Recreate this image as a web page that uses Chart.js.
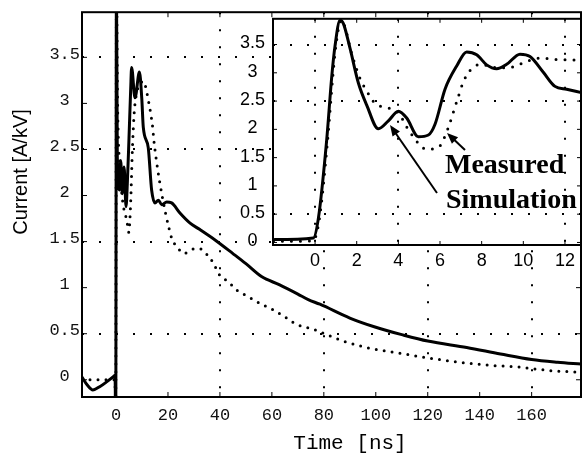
<!DOCTYPE html>
<html>
<head>
<meta charset="utf-8">
<script src="https://cdn.jsdelivr.net/npm/chart.js"></script>
<style>
  body { margin: 0; background: #fff; }
  #wrap { position: relative; width: 583px; height: 458px; }
  #main { position: absolute; left: 0; top: 0; }
  #inset { position: absolute; left: 220px; top: 0; }
</style>
</head>
<body>
<div id="wrap">
  <canvas id="main" width="583" height="458"></canvas>
  <canvas id="inset" width="363" height="280"></canvas>
</div>
<script>
// main plot: time [ns] vs current [A/kV]
const simT = [-13.1, -11, -8.9, -6, -3.5, -0.8, -0.4, -0.1, 0.15, 0.5, 1.3, 1.8, 2.4, 3.1, 3.85, 4.35, 5.0, 5.65, 6.0, 7.3, 9.0, 9.9, 10.5, 12.4, 13.7, 15, 16.3, 17.6, 19.5, 21.4, 24.6, 28.5, 32.3, 38.5, 45, 50, 56, 63, 70, 74, 78.5, 90, 100, 110, 120, 135, 148, 160, 170, 179]
const simI = [0.03, -0.06, -0.11, -0.07, -0.02, 0.04, 0.05, -0.4, 4.4, 2.41, 2.06, 2.38, 2.02, 2.31, 1.88, 2.13, 2.63, 3.16, 3.39, 3.06, 3.34, 3.06, 2.74, 2.52, 2.06, 1.92, 1.95, 1.90, 1.93, 1.92, 1.81, 1.70, 1.63, 1.51, 1.37, 1.26, 1.12, 1.03, 0.93, 0.87, 0.82, 0.67, 0.57, 0.49, 0.42, 0.35, 0.28, 0.22, 0.19, 0.17]

const measT = [-13.1, -6, -0.5, -0.1, 0.15, 0.6, 1.5, 2.5, 4.2, 4.9, 5.6, 6.3, 7, 8, 9.5, 10.5, 11.2, 12.4, 13.3, 14.1, 14.6, 15.3, 16.0, 16.9, 18.9, 20.1, 21.4, 24.1, 26.1, 28, 30, 32.4, 35, 37.6, 39.5, 43.4, 46.6, 49.8, 55.4, 60.5, 65.7, 69.6, 75.9, 81.1, 87.5, 96.5, 106.7, 119.6, 132.4, 145.2, 155.5, 167, 178.6]
const measI = [0.0, 0.0, 0.0, -0.3, 4.4, 3.0, 2.3, 1.95, 1.72, 1.6, 1.9, 2.5, 2.9, 3.12, 3.22, 3.24, 3.20, 3.04, 2.90, 2.74, 2.59, 2.43, 2.29, 2.13, 1.83, 1.68, 1.54, 1.42, 1.37, 1.39, 1.42, 1.42, 1.36, 1.26, 1.15, 1.06, 0.97, 0.92, 0.83, 0.76, 0.67, 0.60, 0.55, 0.49, 0.42, 0.35, 0.30, 0.24, 0.19, 0.155, 0.137, 0.10, 0.083]

const xTicks = [0, 20, 40, 60, 80, 100, 120, 140, 160]
const yTicks = [0, 0.5, 1, 1.5, 2, 2.5, 3, 3.5]
const xGrid = [40, 80, 120, 160]
const yGrid = [0.5, 1.5, 2.5, 3.5]

// inset: zoom on the first 13 ns
const inSimT = [-2, -0.08, 0.16, 0.56, 0.8, 0.96, 1.2, 1.36, 1.68, 2.08, 2.48, 3.04, 3.52, 4.0, 4.4, 4.96, 5.44, 5.76, 6.24, 6.8, 7.28, 7.76, 8.24, 8.72, 9.2, 9.84, 10.32, 10.96, 11.52, 12.08, 12.8]
const inSimI = [0.05, 0.08, 0.43, 1.82, 2.93, 3.48, 3.93, 3.87, 3.43, 2.82, 2.43, 2.01, 2.15, 2.32, 2.2, 1.87, 1.9, 2.09, 2.71, 3.12, 3.37, 3.32, 3.14, 3.07, 3.15, 3.33, 3.29, 3.01, 2.76, 2.71, 2.65]

const inMeasT = [-2, -0.1, 0.2, 0.6, 0.85, 1.0, 1.25, 1.4, 1.75, 2.16, 2.48, 2.88, 3.52, 4.0, 4.56, 5.36, 5.92, 6.24, 6.48, 6.88, 7.12, 7.44, 7.92, 8.72, 9.44, 10.16, 10.8, 11.44, 12.15, 12.8]
const inMeasI = [0.02, 0.03, 0.4, 1.8, 2.93, 3.48, 3.93, 3.85, 3.35, 2.9, 2.68, 2.46, 2.38, 2.29, 1.95, 1.65, 1.68, 1.88, 2.12, 2.58, 2.84, 3.04, 3.15, 3.09, 3.10, 3.20, 3.26, 3.24, 3.23, 3.22]

const inXTicks = [0, 2, 4, 6, 8, 10, 12]
const inYTicks = [0, 0.5, 1, 1.5, 2, 2.5, 3, 3.5]
const inXGrid = [0, 4, 12]
const inYGrid = [0.5, 2.5, 3.5]

const pts = (xs, ys) => xs.map((x, i) => ({x: x, y: ys[i]}))

// box round the plot area + small inward ticks
const frame = {
  id: 'frame',
  afterDraw(chart, args, opts) {
    const {ctx, chartArea: a, scales: {x, y}} = chart
    ctx.save()
    ctx.strokeStyle = '#000'
    ctx.lineWidth = 1
    ctx.beginPath()
    x.ticks.forEach(t => {
      const px = x.getPixelForValue(t.value)
      ctx.moveTo(px, a.bottom); ctx.lineTo(px, a.bottom - opts.len)
      ctx.moveTo(px, a.top); ctx.lineTo(px, a.top + opts.len)
    })
    y.ticks.forEach(t => {
      const py = y.getPixelForValue(t.value)
      ctx.moveTo(a.left, py); ctx.lineTo(a.left + opts.len, py)
      ctx.moveTo(a.right, py); ctx.lineTo(a.right - opts.len, py)
    })
    ctx.stroke()
    ctx.lineWidth = opts.width
    ctx.strokeRect(a.left, a.top, a.right - a.left, a.bottom - a.top)
    ctx.restore()
  }
}

const whiteArea = {
  id: 'whiteArea',
  beforeDraw(chart) {
    const {ctx, chartArea: a} = chart
    ctx.save()
    ctx.fillStyle = '#fff'
    ctx.fillRect(a.left, a.top, a.right - a.left, a.bottom - a.top)
    ctx.restore()
  }
}

const axisTitles = {
  id: 'axisTitles',
  afterDraw(chart) {
    const ctx = chart.ctx
    ctx.save()
    ctx.fillStyle = '#000'
    ctx.textAlign = 'center'
    ctx.textBaseline = 'middle'
    ctx.font = '21px "Liberation Mono", monospace'
    ctx.fillText('Time [ns]', 350, 443)
    ctx.translate(21, 172)
    ctx.rotate(-Math.PI / 2)
    ctx.font = '20px "Liberation Sans", Arial, sans-serif'
    ctx.fillText('Current [A/kV]', 0, 0)
    ctx.restore()
  }
}

function arrow(ctx, x1, y1, x2, y2) {
  const ang = Math.atan2(y2 - y1, x2 - x1)
  const len = 11, w = 4.5
  ctx.beginPath()
  ctx.moveTo(x1, y1)
  ctx.lineTo(x2 - Math.cos(ang) * len * 0.8, y2 - Math.sin(ang) * len * 0.8)
  ctx.stroke()
  ctx.beginPath()
  ctx.moveTo(x2, y2)
  ctx.lineTo(x2 - Math.cos(ang) * len - Math.sin(ang) * w, y2 - Math.sin(ang) * len + Math.cos(ang) * w)
  ctx.lineTo(x2 - Math.cos(ang) * len + Math.sin(ang) * w, y2 - Math.sin(ang) * len - Math.cos(ang) * w)
  ctx.closePath()
  ctx.fill()
}

const notes = {
  id: 'notes',
  afterDraw(chart) {
    const ctx = chart.ctx
    ctx.save()
    ctx.fillStyle = '#000'
    ctx.strokeStyle = '#000'
    ctx.lineWidth = 2
    arrow(ctx, 245, 150, 227, 133)
    arrow(ctx, 217, 193, 170, 125)
    ctx.font = 'bold 28px "Liberation Serif", "Times New Roman", serif'
    ctx.textBaseline = 'alphabetic'
    ctx.fillText('Measured', 225, 173)
    ctx.fillText('Simulation', 226, 208)
    ctx.restore()
  }
}

function gridColor(list) {
  return c => (c.tick && list.includes(c.tick.value)) ? '#000' : 'rgba(0,0,0,0)'
}

const monoFont = {family: '"Liberation Mono", "Courier New", monospace', size: 17}
const sansFont = {family: '"Liberation Sans", Arial, sans-serif', size: 18}

new Chart(document.getElementById('main'), {
  type: 'line',
  data: {
    datasets: [{
      label: 'Simulation',
      data: pts(simT, simI),
      borderColor: '#000',
      borderWidth: 3,
      pointRadius: 0,
      cubicInterpolationMode: 'monotone',
      fill: false
    }, {
      label: 'Measured',
      data: pts(measT, measI),
      borderColor: '#000',
      borderWidth: 3,
      borderDash: [0, 8],
      borderCapStyle: 'round',
      pointRadius: 0,
      cubicInterpolationMode: 'monotone',
      fill: false
    }]
  },
  options: {
    responsive: false,
    animation: false,
    layout: {padding: {top: 6, right: 2, left: 0, bottom: 0}},
    plugins: {legend: {display: false}, tooltip: {enabled: false}, frame: {len: 5, width: 2}},
    scales: {
      x: {
        type: 'linear',
        min: -13.1,
        max: 179,
        afterBuildTicks: s => { s.ticks = xTicks.map(v => ({value: v})) },
        afterFit: s => { s.height = 61 },
        ticks: {font: monoFont, color: '#111', padding: 8, maxRotation: 0, callback: v => String(v)},
        grid: {drawTicks: false, color: gridColor(xGrid), lineWidth: 2},
        border: {display: false, dash: [2, 15]}
      },
      y: {
        type: 'linear',
        min: -0.187,
        max: 3.99,
        afterBuildTicks: s => { s.ticks = yTicks.map(v => ({value: v})) },
        afterFit: s => { s.width = 82 },
        ticks: {font: monoFont, color: '#111', padding: 2, crossAlign: 'center', labelOffset: -3, callback: v => String(v)},
        grid: {drawTicks: false, color: gridColor(yGrid), lineWidth: 2},
        border: {display: false, dash: [2, 15]}
      }
    }
  },
  plugins: [frame, axisTitles]
})

new Chart(document.getElementById('inset'), {
  type: 'line',
  data: {
    datasets: [{
      label: 'Simulation',
      data: pts(inSimT, inSimI),
      borderColor: '#000',
      borderWidth: 3,
      pointRadius: 0,
      cubicInterpolationMode: 'monotone',
      fill: false
    }, {
      label: 'Measured',
      data: pts(inMeasT, inMeasI),
      borderColor: '#000',
      borderWidth: 3,
      borderDash: [0, 9],
      borderCapStyle: 'round',
      pointRadius: 0,
      cubicInterpolationMode: 'monotone',
      fill: false
    }]
  },
  options: {
    responsive: false,
    animation: false,
    layout: {padding: {top: 5, right: 2, left: 0, bottom: 0}},
    plugins: {legend: {display: false}, tooltip: {enabled: false}, frame: {len: 4, width: 2}},
    scales: {
      x: {
        type: 'linear',
        min: -2.02,
        max: 12.77,
        afterBuildTicks: s => { s.ticks = inXTicks.map(v => ({value: v})) },
        afterFit: s => { s.height = 35 },
        ticks: {font: sansFont, color: '#000', padding: 5, maxRotation: 0, callback: v => String(v)},
        grid: {drawTicks: false, color: gridColor(inXGrid), lineWidth: 2},
        border: {display: false, dash: [2, 15]}
      },
      y: {
        type: 'linear',
        min: -0.045,
        max: 3.955,
        afterBuildTicks: s => { s.ticks = inYTicks.map(v => ({value: v})) },
        afterFit: s => { s.width = 53 },
        ticks: {font: sansFont, color: '#000', padding: 8, crossAlign: 'center', labelOffset: -1, callback: v => String(v)},
        grid: {drawTicks: false, color: gridColor(inYGrid), lineWidth: 2},
        border: {display: false, dash: [2, 15]}
      }
    }
  },
  plugins: [whiteArea, frame, notes]
})
</script>
</body>
</html>
